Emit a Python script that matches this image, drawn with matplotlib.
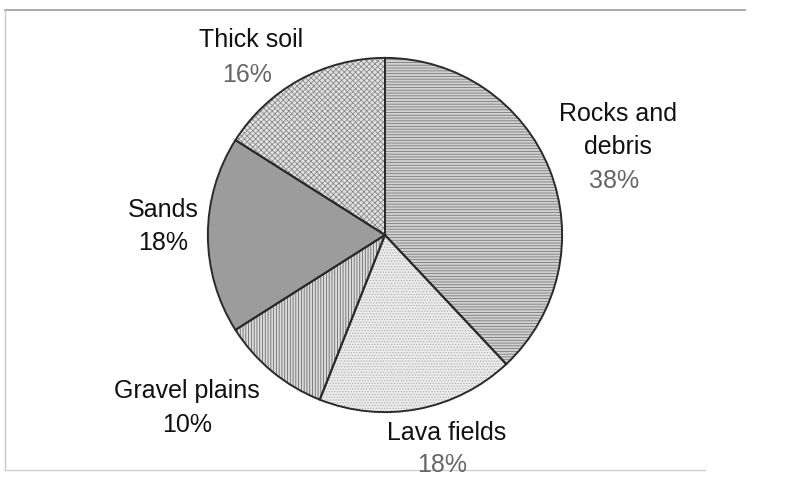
import matplotlib
matplotlib.use("Agg")
import matplotlib.pyplot as plt
from matplotlib.lines import Line2D

categories = ["Rocks and\ndebris", "Lava fields", "Gravel plains", "Sands", "Thick soil"]
values = [38, 18, 10, 18, 16]
pct_labels = ["38%", "18%", "10%", "18%", "16%"]

faces = ["#d2d2d2", "#ececec", "#dcdcdc", "#9c9c9c", "#e2e2e2"]
hatches = ["------", "......", "||||||", "", "xxxxxx"]
hatch_cols = ["#7a7a7a", "#b0b0b0", "#6a6a6a", "#9c9c9c", "#8a8a8a"]

plt.rcParams['font.family'] = ['Liberation Sans', 'DejaVu Sans']
plt.rcParams['hatch.linewidth'] = 0.6

W, H = 791, 494
fig = plt.figure(figsize=(W / 100, H / 100), dpi=100)
fig.patch.set_facecolor("white")

cx, cy, r = 385, 235, 178
ax = fig.add_axes([(cx - r) / W, (H - cy - r) / H, 2 * r / W, 2 * r / H])
ax.axis('off')

# fill + hatch layer
wedges, _ = ax.pie(values, startangle=90, counterclock=False, radius=1,
                   colors=faces, wedgeprops=dict(linewidth=0))
for w, h, hc in zip(wedges, hatches, hatch_cols):
    w.set_hatch(h)
    w.set_edgecolor(hc)
    w.set_linewidth(0)
# outline layer
outl, _ = ax.pie(values, startangle=90, counterclock=False, radius=1,
                 wedgeprops=dict(fill=False, edgecolor="#2a2a2a", linewidth=1.4))
ax.set_xlim(-1.005, 1.005)
ax.set_ylim(-1.005, 1.005)
ax.set_aspect('equal')

def px(x, y):
    return x / W, 1 - y / H

fs = 18
black = "#111111"
gray = "#666666"
lab_pos = [(618, 114), (447, 433), (187, 391), (163, 210), (251, 40)]
line_gap = 33
pct_pos = [(614, 181), (442, 465), (187, 425), (163, 243), (247, 75)]
pct_cols = [gray, gray, black, black, gray]
for name, p, lp, pp, pc in zip(categories, pct_labels, lab_pos, pct_pos, pct_cols):
    for i, line in enumerate(name.split("\n")):
        fig.text(*px(lp[0], lp[1] + i * line_gap), line, ha='center', va='center',
                 fontsize=fs, color=black)
    fig.text(*px(*pp), p, ha='center', va='center', fontsize=fs, color=pc)

# frame lines
fc = "#9a9a9a"
fig.add_artist(Line2D([5 / W, 745 / W], [1 - 10 / H, 1 - 10 / H], color=fc, lw=1.2))
fig.add_artist(Line2D([5 / W, 5 / W], [1 - 10 / H, 1 - 470 / H], color="#c8c8c8", lw=1))
fig.add_artist(Line2D([5 / W, 705 / W], [1 - 470 / H, 1 - 470 / H], color="#d0d0d0", lw=1))

fig.savefig("out.png", dpi=100, facecolor="white")
